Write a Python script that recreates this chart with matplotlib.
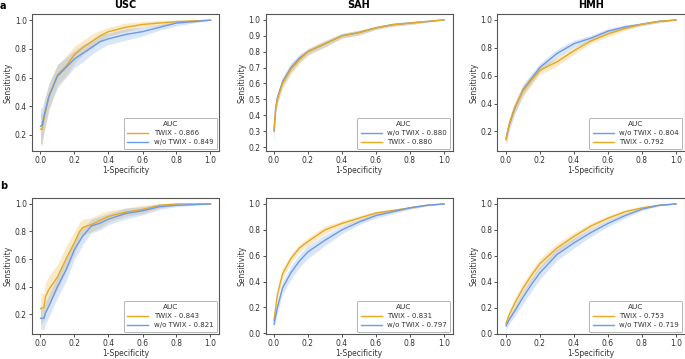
import matplotlib
matplotlib.use("Agg")
import matplotlib.pyplot as plt
import numpy as np

plt.rcParams['font.family'] = ['DejaVu Sans']

ORANGE = "#E8A820"
BLUE = "#6A9AEA"

# ---------------- data ----------------
# Row a
usc_a_fpr = [0.0, 0.01, 0.02, 0.05, 0.1, 0.15, 0.2, 0.25, 0.3, 0.35, 0.4, 0.5, 0.6, 0.7, 0.8, 0.9, 1.0]
usc_a_twix = [0.24, 0.24, 0.31, 0.47, 0.62, 0.68, 0.76, 0.81, 0.85, 0.89, 0.92, 0.95, 0.97, 0.98, 0.99, 0.995, 1.0]
usc_a_wo = [0.26, 0.27, 0.33, 0.47, 0.61, 0.67, 0.73, 0.77, 0.81, 0.85, 0.87, 0.90, 0.92, 0.95, 0.98, 0.99, 1.0]
usc_a_twix_ci = [0.11, 0.11, 0.10, 0.09, 0.07, 0.07, 0.06, 0.05, 0.05, 0.04, 0.03, 0.03, 0.02, 0.02, 0.01, 0.01, 0.0]
usc_a_wo_ci = [0.13, 0.12, 0.11, 0.09, 0.08, 0.07, 0.06, 0.06, 0.05, 0.05, 0.04, 0.04, 0.03, 0.02, 0.02, 0.01, 0.0]

sah_a_fpr = [0.0, 0.01, 0.02, 0.05, 0.1, 0.15, 0.2, 0.3, 0.4, 0.5, 0.6, 0.7, 0.8, 0.9, 1.0]
sah_a_wo = [0.30, 0.45, 0.51, 0.61, 0.70, 0.76, 0.80, 0.85, 0.90, 0.92, 0.95, 0.97, 0.98, 0.99, 1.0]
sah_a_twix = [0.31, 0.44, 0.50, 0.60, 0.69, 0.75, 0.80, 0.85, 0.90, 0.92, 0.95, 0.97, 0.98, 0.99, 1.0]
sah_a_wo_ci = [0.07, 0.04, 0.03, 0.03, 0.03, 0.025, 0.02, 0.02, 0.015, 0.015, 0.01, 0.01, 0.01, 0.005, 0.0]
sah_a_twix_ci = [0.07, 0.04, 0.03, 0.03, 0.03, 0.025, 0.02, 0.02, 0.015, 0.015, 0.01, 0.01, 0.01, 0.005, 0.0]

hmh_a_fpr = [0.0, 0.02, 0.05, 0.1, 0.15, 0.2, 0.3, 0.4, 0.5, 0.6, 0.7, 0.8, 0.9, 1.0]
hmh_a_wo = [0.15, 0.25, 0.36, 0.50, 0.58, 0.66, 0.76, 0.83, 0.87, 0.92, 0.95, 0.97, 0.99, 1.0]
hmh_a_twix = [0.14, 0.26, 0.37, 0.49, 0.57, 0.64, 0.70, 0.78, 0.85, 0.90, 0.94, 0.97, 0.99, 1.0]
hmh_a_wo_ci = [0.04, 0.04, 0.04, 0.04, 0.035, 0.03, 0.03, 0.025, 0.02, 0.02, 0.015, 0.01, 0.01, 0.0]
hmh_a_twix_ci = [0.04, 0.04, 0.04, 0.04, 0.035, 0.03, 0.03, 0.025, 0.02, 0.02, 0.015, 0.01, 0.01, 0.0]

# Row b
usc_b_fpr = [0.0, 0.02, 0.03, 0.05, 0.1, 0.15, 0.2, 0.23, 0.25, 0.3, 0.35, 0.4, 0.5, 0.6, 0.7, 0.8, 0.9, 1.0]
usc_b_twix = [0.24, 0.25, 0.33, 0.38, 0.47, 0.60, 0.72, 0.80, 0.83, 0.85, 0.88, 0.91, 0.94, 0.96, 0.99, 1.0, 1.0, 1.0]
usc_b_wo = [0.17, 0.17, 0.21, 0.26, 0.40, 0.52, 0.67, 0.73, 0.77, 0.84, 0.86, 0.89, 0.93, 0.95, 0.98, 0.99, 0.995, 1.0]
usc_b_twix_ci = [0.11, 0.10, 0.10, 0.10, 0.09, 0.09, 0.08, 0.07, 0.06, 0.05, 0.05, 0.04, 0.03, 0.03, 0.02, 0.01, 0.005, 0.0]
usc_b_wo_ci = [0.08, 0.08, 0.08, 0.08, 0.08, 0.08, 0.07, 0.07, 0.06, 0.05, 0.05, 0.04, 0.04, 0.03, 0.02, 0.01, 0.005, 0.0]

sah_b_fpr = [0.0, 0.02, 0.05, 0.1, 0.15, 0.2, 0.3, 0.4, 0.5, 0.6, 0.7, 0.8, 0.9, 1.0]
sah_b_twix = [0.10, 0.30, 0.46, 0.58, 0.66, 0.71, 0.80, 0.85, 0.89, 0.93, 0.95, 0.97, 0.99, 1.0]
sah_b_wo = [0.07, 0.20, 0.35, 0.47, 0.56, 0.63, 0.72, 0.80, 0.86, 0.91, 0.94, 0.97, 0.99, 1.0]
sah_b_twix_ci = [0.03, 0.04, 0.04, 0.03, 0.03, 0.03, 0.03, 0.02, 0.02, 0.015, 0.01, 0.01, 0.005, 0.0]
sah_b_wo_ci = [0.03, 0.04, 0.05, 0.05, 0.05, 0.05, 0.04, 0.03, 0.02, 0.02, 0.015, 0.01, 0.005, 0.0]

hmh_b_fpr = [0.0, 0.02, 0.05, 0.1, 0.15, 0.2, 0.3, 0.4, 0.5, 0.6, 0.7, 0.8, 0.9, 1.0]
hmh_b_twix = [0.08, 0.15, 0.23, 0.35, 0.45, 0.54, 0.66, 0.75, 0.83, 0.89, 0.94, 0.97, 0.99, 1.0]
hmh_b_wo = [0.06, 0.11, 0.17, 0.28, 0.38, 0.47, 0.61, 0.70, 0.78, 0.85, 0.91, 0.96, 0.99, 1.0]
hmh_b_twix_ci = [0.03, 0.03, 0.04, 0.04, 0.04, 0.04, 0.035, 0.03, 0.025, 0.02, 0.015, 0.01, 0.005, 0.0]
hmh_b_wo_ci = [0.03, 0.03, 0.04, 0.05, 0.05, 0.05, 0.045, 0.04, 0.03, 0.025, 0.02, 0.01, 0.005, 0.0]

titles = ["USC", "SAH", "HMH"]

panels = [
    (usc_a_fpr, [("TWIX - 0.866", usc_a_twix, usc_a_twix_ci, ORANGE),
                 ("w/o TWIX - 0.849", usc_a_wo, usc_a_wo_ci, BLUE)],
     (0.088, 1.043), np.arange(0.2, 1.01, 0.2)),
    (sah_a_fpr, [("w/o TWIX - 0.880", sah_a_wo, sah_a_wo_ci, BLUE),
                 ("TWIX - 0.880", sah_a_twix, sah_a_twix_ci, ORANGE)],
     (0.175, 1.037), np.arange(0.2, 1.01, 0.1)),
    (hmh_a_fpr, [("w/o TWIX - 0.804", hmh_a_wo, hmh_a_wo_ci, BLUE),
                 ("TWIX - 0.792", hmh_a_twix, hmh_a_twix_ci, ORANGE)],
     (0.06, 1.043), np.arange(0.2, 1.01, 0.2)),
    (usc_b_fpr, [("TWIX - 0.843", usc_b_twix, usc_b_twix_ci, ORANGE),
                 ("w/o TWIX - 0.821", usc_b_wo, usc_b_wo_ci, BLUE)],
     (0.056, 1.043), np.arange(0.2, 1.01, 0.2)),
    (sah_b_fpr, [("TWIX - 0.831", sah_b_twix, sah_b_twix_ci, ORANGE),
                 ("w/o TWIX - 0.797", sah_b_wo, sah_b_wo_ci, BLUE)],
     (-0.005, 1.046), np.arange(0.0, 1.01, 0.2)),
    (hmh_b_fpr, [("TWIX - 0.753", hmh_b_twix, hmh_b_twix_ci, ORANGE),
                 ("w/o TWIX - 0.719", hmh_b_wo, hmh_b_wo_ci, BLUE)],
     (-0.003, 1.046), np.arange(0.0, 1.01, 0.2)),
]

W, H = 685, 359
fig = plt.figure(figsize=(W / 100, H / 100), dpi=100)

col_left = [32, 265.5, 497.5]
col_w = 187
row_top = [14, 198]
row_h = [137, 136]

FS = 5.5
LFS = 5.0
TXT = "#333333"
for i, (fpr, series, ylim, yticks) in enumerate(panels):
    r, c = divmod(i, 3)
    left = col_left[c] / W
    bottom = 1 - (row_top[r] + row_h[r]) / H
    ax = fig.add_axes([left, bottom, col_w / W, row_h[r] / H])
    fpr = np.array(fpr)
    for label, tpr, ci, color in series:
        tpr = np.array(tpr)
        ci = np.array(ci)
        ax.fill_between(fpr, np.clip(tpr - ci, 0, 1), np.clip(tpr + ci, 0, 1),
                        color=color, alpha=0.25, linewidth=0)
    for label, tpr, ci, color in series:
        ax.plot(fpr, tpr, color=color, lw=1.0, label=label)
    ax.set_xlim(-0.05, 1.05)
    ax.set_ylim(*ylim)
    ax.set_xticks(np.arange(0, 1.01, 0.2))
    ax.set_yticks(yticks)
    ax.xaxis.set_major_formatter(matplotlib.ticker.FormatStrFormatter('%.1f'))
    ax.yaxis.set_major_formatter(matplotlib.ticker.FormatStrFormatter('%.1f'))
    ax.tick_params(labelsize=FS, length=2.2, width=0.6, colors=TXT, pad=1.5)
    for s in ax.spines.values():
        s.set_color("#555555")
        s.set_linewidth(0.8)
    ax.set_xlabel("1-Specificity", fontsize=FS, labelpad=0.5, color=TXT)
    ax.set_ylabel("Sensitivity", fontsize=FS, labelpad=1.5, color=TXT)
    leg = ax.legend(title="AUC", loc="lower right", fontsize=LFS, title_fontsize=LFS + 0.3,
                    frameon=True, fancybox=True, borderpad=0.5, handlelength=3.0,
                    handletextpad=0.8, labelspacing=0.45, borderaxespad=0.3)
    leg.get_frame().set_edgecolor("#aaaaaa")
    leg.get_frame().set_linewidth(0.6)
    leg.get_frame().set_alpha(1.0)
    for t in leg.get_texts():
        t.set_color(TXT)
    leg.get_title().set_color(TXT)
    if r == 0:
        ax.set_title(titles[c], fontsize=7, fontweight="bold", pad=4)

fig.text(0.0, 1 - 1 / H, "a", fontsize=7, fontweight="bold", va="top", ha="left")
fig.text(0.0, 1 - 181 / H, "b", fontsize=7, fontweight="bold", va="top", ha="left")

fig.savefig("out.png", dpi=100)
